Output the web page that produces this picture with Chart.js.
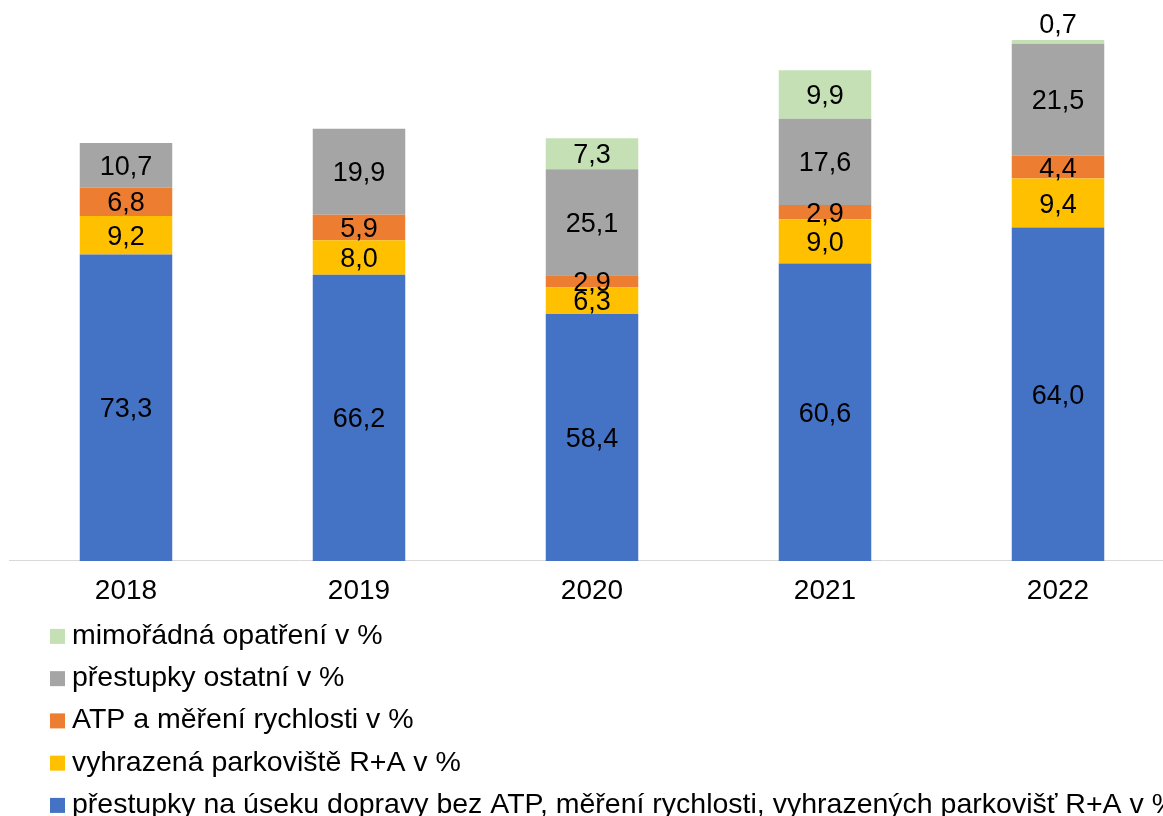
<!DOCTYPE html>
<html>
<head>
<meta charset="utf-8">
<script src="https://cdn.jsdelivr.net/npm/chart.js@4/dist/chart.umd.min.js"></script>
<style>
  html, body { margin: 0; padding: 0; background: #fff; overflow: hidden; }
  #wrap { width: 1180px; height: 816px; }
</style>
</head>
<body>
<div id="wrap"><canvas id="c" width="1180" height="816"></canvas></div>
<script>
// ---- data ----
const years = ['2018', '2019', '2020', '2021', '2022'];
// relative volume of offences per year (2018 = 100)
const volumeIndex = [100, 103.4, 101.1, 117.4, 124.6];
// shares in % (labels)
const pctBezATP   = [73.3, 66.2, 58.4, 60.6, 64.0];
const pctParking  = [9.2, 8.0, 6.3, 9.0, 9.4];
const pctATP      = [6.8, 5.9, 2.9, 2.9, 4.4];
const pctOstatni  = [10.7, 19.9, 25.1, 17.6, 21.5];
const pctMimorad  = [null, null, 7.3, 9.9, 0.7];

const seriesNames = [
  'přestupky na úseku dopravy bez ATP, měření rychlosti, vyhrazených parkovišť R+A v %',
  'vyhrazená parkoviště R+A v %',
  'ATP a měření rychlosti v %',
  'přestupky ostatní v %',
  'mimořádná opatření v %'
];
const seriesColors = ['#4472C4', '#FFC000', '#ED7D31', '#A5A5A5', '#C5E0B4'];
const seriesPct = [pctBezATP, pctParking, pctATP, pctOstatni, pctMimorad];

const FONT = '"Liberation Sans", Arial, sans-serif';

const datasets = seriesPct.map((pct, s) => ({
  label: seriesNames[s],
  pct: pct,
  data: pct.map((p, i) => p == null ? null : p * volumeIndex[i] / 100),
  backgroundColor: seriesColors[s],
  borderWidth: 0,
  categoryPercentage: 1.0,
  barPercentage: 0.397
}));

const labelPlugin = {
  id: 'segLabels',
  afterDatasetsDraw(chart) {
    const ctx = chart.ctx;
    ctx.save();
    ctx.font = '27px ' + FONT;
    ctx.fillStyle = '#000';
    ctx.textAlign = 'center';
    ctx.textBaseline = 'middle';
    chart.data.datasets.forEach((ds, di) => {
      const meta = chart.getDatasetMeta(di);
      meta.data.forEach((bar, i) => {
        const v = ds.pct[i];
        if (v == null) return;
        const top = Math.min(bar.y, bar.base);
        const h = Math.abs(bar.base - bar.y);
        const txt = v.toFixed(1).replace('.', ',');
        let y = top + h / 2;
        if (h < 10) y = top - 17;
        ctx.fillText(txt, bar.x, y + 2);
      });
    });
    ctx.restore();
  }
};

const legendPlugin = {
  id: 'listLegend',
  afterDraw(chart) {
    const ctx = chart.ctx;
    const base = chart.chartArea.bottom;
    ctx.save();
    ctx.font = '28.5px ' + FONT;
    ctx.textAlign = 'left';
    ctx.textBaseline = 'alphabetic';
    const items = chart.data.datasets.map((d, i) => i).reverse();
    items.forEach((di, row) => {
      const ds = chart.data.datasets[di];
      const cy = base + 75.5 + row * 42.25;
      ctx.fillStyle = ds.backgroundColor;
      ctx.fillRect(50, cy - 7.5, 15, 15);
      ctx.fillStyle = '#000';
      ctx.fillText(ds.label, 72, cy + 7.5);
    });
    ctx.restore();
  }
};

new Chart(document.getElementById('c'), {
  type: 'bar',
  data: { labels: years, datasets: datasets },
  options: {
    responsive: false,
    animation: false,
    layout: { padding: { left: 9.5, right: 5.5, top: 17.5, bottom: 194.5 } },
    plugins: {
      legend: { display: false },
      tooltip: { enabled: false }
    },
    scales: {
      x: {
        stacked: true,
        grid: { display: false, drawTicks: false },
        border: { display: true, color: '#D9D9D9', width: 1 },
        ticks: { color: '#000', font: { family: FONT, size: 28 }, padding: 13.5 }
      },
      y: {
        stacked: true,
        display: false,
        min: 0,
        max: 130
      }
    }
  },
  plugins: [labelPlugin, legendPlugin]
});
</script>
</body>
</html>
